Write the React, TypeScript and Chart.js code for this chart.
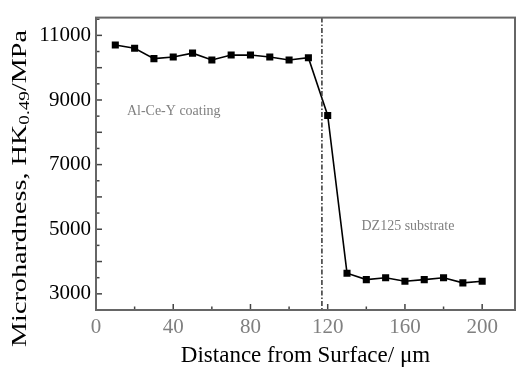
import React, { useEffect, useRef } from "react";
import { Chart, registerables } from "chart.js";

Chart.register(...registerables);

const distance = [10, 20, 30, 40, 50, 60, 70, 80, 90, 100, 110, 120, 130, 140, 150, 160, 170, 180, 190, 200];
const hardness = [10700, 10600, 10280, 10330, 10450, 10240, 10390, 10390, 10330, 10240, 10310, 8520, 3640, 3440, 3500, 3390, 3440, 3500, 3340, 3390];
const interfaceX = 117;
const xTickLabels = [0, 40, 80, 120, 160, 200];
const yTickLabels = [3000, 5000, 7000, 9000, 11000];
const annotations = [
  { text: "Al-Ce-Y coating", x: 16, y: 8650 },
  { text: "DZ125 substrate", x: 137.5, y: 5100 },
];
const xTitle = "Distance from Surface/ \u03bcm";
const yTitleMain = "Microhardness, HK";
const yTitleSub = "0.49";
const yTitleEnd = "/MPa";

const SERIF = "'Liberation Serif', 'DejaVu Serif', serif";

const customPlugin = {
  id: "custom",
  afterDraw(chart: any) {
    const { ctx, chartArea, scales } = chart;
    const xs = scales.x;
    const ys = scales.y;
    ctx.save();
    // interface dash-dot line
    ctx.strokeStyle = "#333";
    ctx.lineWidth = 1.5;
    ctx.setLineDash([5, 2, 1.5, 2]);
    const ix = xs.getPixelForValue(interfaceX);
    ctx.beginPath();
    ctx.moveTo(ix, chartArea.top);
    ctx.lineTo(ix, chartArea.bottom);
    ctx.stroke();
    ctx.setLineDash([]);

    // ticks inward
    ctx.strokeStyle = "#444";
    ctx.lineWidth = 1.5;
    for (let v = 3000; v <= 11500; v += 500) {
      const y = ys.getPixelForValue(v);
      const len = v % 1000 === 0 ? 6 : 3.5;
      ctx.beginPath();
      ctx.moveTo(chartArea.left, y);
      ctx.lineTo(chartArea.left + len, y);
      ctx.stroke();
    }
    for (let v = 20; v <= 217; v += 20) {
      const x = xs.getPixelForValue(v);
      const len = v % 40 === 0 ? 6 : 3.5;
      ctx.beginPath();
      ctx.moveTo(x, chartArea.bottom);
      ctx.lineTo(x, chartArea.bottom - len);
      ctx.stroke();
    }

    // frame
    ctx.strokeStyle = "#666";
    ctx.lineWidth = 2;
    ctx.strokeRect(chartArea.left, chartArea.top, chartArea.right - chartArea.left, chartArea.bottom - chartArea.top);

    // annotations
    ctx.fillStyle = "#808080";
    ctx.font = `14px ${SERIF}`;
    ctx.textAlign = "left";
    ctx.textBaseline = "middle";
    annotations.forEach((a) => {
      ctx.fillText(a.text, xs.getPixelForValue(a.x), ys.getPixelForValue(a.y));
    });

    // y title with subscript
    const mainFont = `22px ${SERIF}`;
    const subFont = `15px ${SERIF}`;
    ctx.font = mainFont;
    const w1 = ctx.measureText(yTitleMain).width;
    const w3 = ctx.measureText(yTitleEnd).width;
    ctx.font = subFont;
    const w2 = ctx.measureText(yTitleSub).width;
    const total = w1 + w2 + w3;
    const cy = 188.5;
    ctx.translate(20.5, cy);
    ctx.rotate(-Math.PI / 2);
    const stretch = 317 / total;
    ctx.scale(stretch, 1);
    ctx.fillStyle = "#000";
    ctx.textBaseline = "middle";
    ctx.textAlign = "left";
    let px = -total / 2;
    ctx.font = mainFont;
    ctx.fillText(yTitleMain, px, 0);
    px += w1;
    ctx.font = subFont;
    ctx.fillText(yTitleSub, px, 5);
    px += w2;
    ctx.font = mainFont;
    ctx.fillText(yTitleEnd, px, 0);
    ctx.restore();
  },
};

export default function App() {
  const ref = useRef<HTMLCanvasElement | null>(null);
  useEffect(() => {
    if (!ref.current) return;
    const chart = new Chart(ref.current, {
      type: "line",
      data: {
        datasets: [
          {
            data: distance.map((d, i) => ({ x: d, y: hardness[i] })),
            borderColor: "#000",
            backgroundColor: "#000",
            borderWidth: 1.6,
            pointStyle: "rect",
            pointRadius: 5,
            pointBorderWidth: 0,
            tension: 0,
          },
        ],
      },
      options: {
        animation: false,
        responsive: false,
        maintainAspectRatio: false,
        layout: { padding: { left: 0, right: 5, top: 12, bottom: 0 } },
        plugins: { legend: { display: false }, tooltip: { enabled: false } },
        scales: {
          x: {
            type: "linear",
            min: 0,
            max: 217,
            afterFit: (s: any) => {
              s.height = 57;
            },
            afterBuildTicks: (s: any) => {
              s.ticks = xTickLabels.map((v) => ({ value: v }));
            },
            grid: { display: false, drawTicks: false },
            border: { display: false },
            ticks: {
              padding: 5,
              color: "#808080",
              font: { family: SERIF, size: 21 },
              maxRotation: 0,
              callback: (v: any) => String(v),
            },
            title: {
              display: true,
              text: xTitle,
              color: "#000",
              font: { family: SERIF, size: 23, lineHeight: 1.0 },
              padding: { top: 0, bottom: 0 },
            },
          },
          y: {
            type: "linear",
            min: 2500,
            max: 11550,
            afterFit: (s: any) => {
              s.width = 96;
            },
            afterBuildTicks: (s: any) => {
              s.ticks = yTickLabels.map((v) => ({ value: v }));
            },
            grid: { display: false, drawTicks: false },
            border: { display: false },
            ticks: {
              padding: 5,
              color: "#000",
              font: { family: SERIF, size: 21 },
              callback: (v: any) => String(v),
            },
          },
        },
      },
      plugins: [customPlugin],
    });
    return () => chart.destroy();
  }, []);
  return (
    <div style={{ position: "absolute", left: 0, top: 0, width: 520, height: 367, background: "#fff" }}>
      <canvas ref={ref} width={520} height={367} style={{ width: 520, height: 367 }} />
    </div>
  );
}
